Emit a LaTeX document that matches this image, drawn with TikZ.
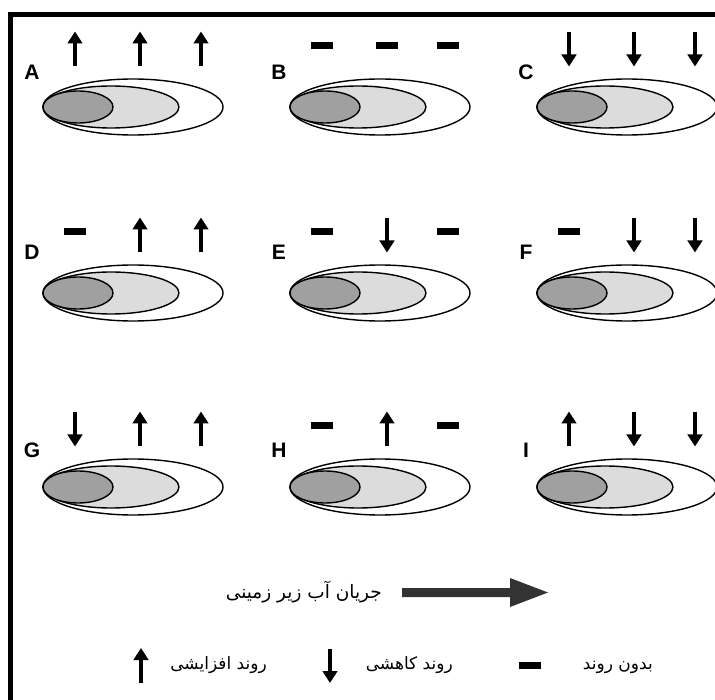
\documentclass[tikz,border=0pt]{standalone}
\usepackage{fontspec}
\setmainfont{Liberation Sans}
\newfontfamily\arabicfont[Script=Arabic]{DejaVu Sans}
\TeXXeTstate=1
\usetikzlibrary{arrows.meta}
\definecolor{darkfill}{HTML}{A0A0A0}
\definecolor{lightfill}{HTML}{DCDCDC}
\definecolor{flowgray}{HTML}{333333}
\tikzset{
  lens/.style={draw=black, line width=1.4pt},
  trendarrow/.style={line width=4.6pt, -{Triangle[width=14.5pt,length=12pt]}},
  panellabel/.style={font=\bfseries\fontsize{21}{21}\selectfont, inner sep=0pt},
  legendtext/.style={font=\arabicfont\fontsize{17}{19}\selectfont, inner sep=0pt},
  flowtextstyle/.style={font=\arabicfont\fontsize{18.5}{20}\selectfont, inner sep=0pt},
  trendup/.pic={\draw[trendarrow] (0,17) -- (0,-17.5);},
  trenddown/.pic={\draw[trendarrow] (0,-17) -- (0,17.5);},
  trendflat/.pic={\fill (-11,-6.5) rectangle (11,0.5);},
}
\begin{document}
\begin{tikzpicture}[x=1pt, y=-1pt]
\useasboundingbox (0,0) rectangle (715,700);
% frame
\fill (8,12) rectangle (715,17);
\fill (8,12) rectangle (13,700);
% panels
\foreach \lab/\px/\cy/\ly/\a/\b/\c in {
  A/0/107/72/trendup/trendup/trendup,
  B/247/107/72/trendflat/trendflat/trendflat,
  C/494/107/72/trenddown/trenddown/trenddown,
  D/0/293/252/trendflat/trendup/trendup,
  E/247/293/252/trendflat/trenddown/trendflat,
  F/494/293/252/trendflat/trenddown/trenddown,
  G/0/487/450/trenddown/trendup/trendup,
  H/247/487/450/trendflat/trendup/trendflat,
  I/494/487/450/trendup/trenddown/trenddown}{
  \begin{scope}[shift={(\px,\cy)}]
    \draw[lens, fill=white] (133,0) ellipse [x radius=90, y radius=28];
    \draw[lens, fill=lightfill] (111,0) ellipse [x radius=68, y radius=21];
    \draw[lens, fill=darkfill] (78,0) ellipse [x radius=35, y radius=16];
    \node[panellabel] (lab\lab) at (32,\ly-\cy) {\lab};
    \pic at (75,-58) {\a};
    \pic at (140,-58) {\b};
    \pic at (201,-58) {\c};
  \end{scope}
}
% groundwater flow arrow
\fill[flowgray] (402,588) -- (510,588) -- (510,578) -- (548,592.5) -- (510,607) -- (510,597) -- (402,597) -- cycle;
\node[flowtextstyle, anchor=base east] (flowtext) at (382,598) {\beginR جریان آب زیر زمینی\endR};
% legend
\pic at (141,665.5) {trendup};
\node[legendtext, anchor=base east] (legup) at (267,669) {\beginR روند افزایشی\endR};
\pic at (330,665.5) {trenddown};
\node[legendtext, anchor=base east] (legdown) at (453,669) {\beginR روند کاهشی\endR};
\pic at (530,668) {trendflat};
\node[legendtext, anchor=base east] (legflat) at (653,669) {\beginR بدون روند\endR};
\end{tikzpicture}
\end{document}
